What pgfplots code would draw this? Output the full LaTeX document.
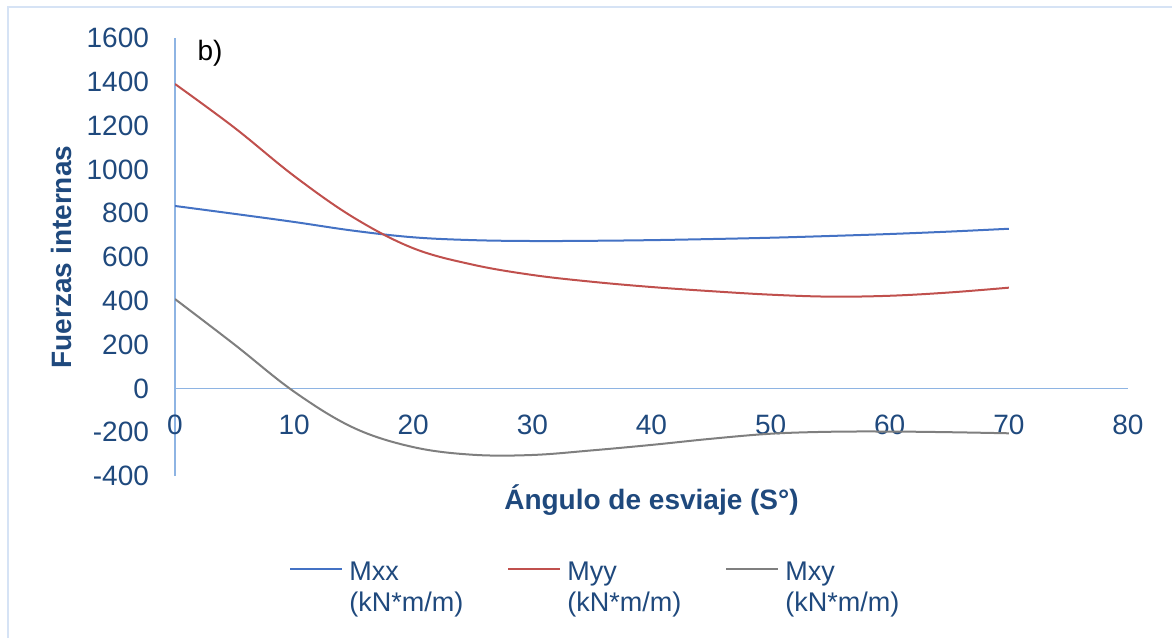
\documentclass[border=0pt]{standalone}
\usepackage{pgfplots}
\pgfplotsset{compat=1.18}
\usepackage{fontspec}
\setmainfont{Liberation Sans}
\definecolor{cMxx}{HTML}{4472C4}
\definecolor{cMyy}{HTML}{C0504D}
\definecolor{cMxy}{HTML}{7F7F7F}
\definecolor{axcol}{HTML}{8EB4E3}
\definecolor{txtcol}{HTML}{1F497D}
\definecolor{bordercol}{HTML}{D6E3F5}
\begin{document}
\begin{tikzpicture}
\useasboundingbox (0,0) rectangle (586pt,319pt);
\draw[bordercol, line width=1.2pt] (4pt,0) -- (4pt,315.5pt) -- (586pt,315.5pt);
\begin{axis}[
  at={(87.5pt,81pt)}, anchor=south west,
  width=476.5pt, height=219pt, scale only axis,
  xmin=0, xmax=80, ymin=-400, ymax=1600,
  axis x line=middle, axis y line=left,
  hide obscured x ticks=false,
  axis line style={axcol, line width=0.8pt, -},
  xtick={0,10,...,80}, ytick={-400,-200,...,1600},
  major tick length=0pt,
  font=\fontsize{14pt}{16pt}\selectfont,
  ticklabel style={text=txtcol},
  /pgf/number format/assume math mode=true,
  /pgf/number format/set thousands separator={},
  xticklabel style={yshift=-9.5pt},
  yticklabel style={xshift=-9.5pt},
  xlabel={\color{txtcol}\bfseries Ángulo de esviaje (S°)},
  ylabel={\color{txtcol}\bfseries Fuerzas internas},
  every axis x label/.style={at={(axis description cs:0.5,0)}, anchor=center, yshift=-12pt},
  every axis y label/.style={at={(axis description cs:-0.1186,0.5)}, rotate=90, anchor=center},
  legend style={at={(0.1132,-0.186)}, anchor=north west, draw=none, fill=none,
    font=\fontsize{13.5pt}{15.5pt}\selectfont, text=txtcol,
    cells={anchor=base west},
    nodes={inner sep=0pt},
    /tikz/every odd column/.append style={column sep=3pt},
    /tikz/every even column/.append style={column sep=0pt, text width=79pt, align=left}},
  legend columns=3,
  legend image code/.code={\draw[#1, line width=1pt] (0pt,5.5pt) -- (26pt,5.5pt);},
]
\addplot[cMxx, line width=1pt, smooth, tension=0.6] coordinates {
(0,833) (5,797) (10,760) (15,720) (20,690) (25,677) (30,673) (35,674) (40,677) (45,682) (50,688) (55,696) (60,705) (65,716) (70,729)};
\addlegendentry{Mxx\\(kN*m/m)}
\addplot[cMyy, line width=1pt, smooth, tension=0.6] coordinates {
(0,1390) (5,1190) (10,970) (15,780) (20,640) (25,565) (30,518) (35,487) (40,463) (45,444) (50,428) (55,419) (60,423) (65,438) (70,460)};
\addlegendentry{Myy\\(kN*m/m)}
\addplot[cMxy, line width=1pt, smooth, tension=0.6] coordinates {
(0,408) (5,200) (10,-15) (15,-180) (20,-268) (25,-303) (30,-304) (35,-283) (40,-258) (45,-230) (50,-207) (55,-198) (60,-197) (65,-200) (70,-205)};
\addlegendentry{Mxy\\(kN*m/m)}
\node[anchor=west, font=\fontsize{14pt}{16pt}\selectfont] at (axis cs:1.3,1530) {b)};
\end{axis}
\end{tikzpicture}
\end{document}
